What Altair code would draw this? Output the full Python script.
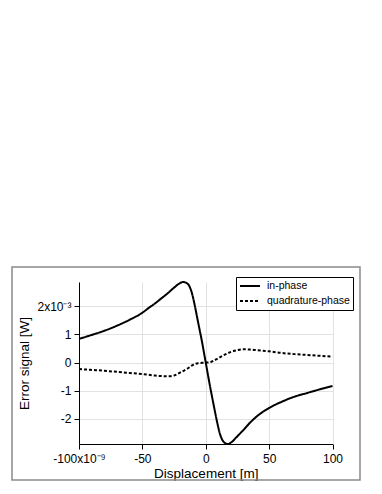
import altair as alt
import pandas as pd

# ---- data (displacement in nm, signal in 1e-3 W) ----
x_in = [-100, -90, -80, -70, -60, -50, -45, -40, -35, -30, -25, -21, -18, -15, -13, -11,
        -9, -7, -5, -3, -1, 0, 1, 3, 5, 7, 9, 11, 13, 15, 17.5, 21, 24, 27, 30, 35, 40,
        45, 50, 60, 70, 80, 90, 100]
y_in = [0.84, 0.98, 1.13, 1.31, 1.52, 1.77, 1.94, 2.10, 2.28, 2.46, 2.66, 2.80, 2.86,
        2.82, 2.72, 2.48, 2.10, 1.65, 1.20, 0.75, 0.25, 0.0, -0.25, -0.75, -1.22, -1.68,
        -2.12, -2.50, -2.74, -2.85, -2.89, -2.80, -2.66, -2.52, -2.38, -2.13, -1.92,
        -1.75, -1.61, -1.39, -1.21, -1.08, -0.95, -0.83]

x_quad = [-100, -90, -80, -70, -60, -50, -40, -35, -30, -25, -20, -15, -10, -6, -3, 0,
          3, 6, 10, 15, 20, 25, 30, 35, 40, 50, 60, 70, 80, 90, 100]
y_quad = [-0.23, -0.26, -0.29, -0.33, -0.37, -0.41, -0.46, -0.48, -0.49, -0.46, -0.35,
          -0.23, -0.08, -0.02, -0.01, 0.0, 0.01, 0.06, 0.16, 0.28, 0.38, 0.44, 0.47,
          0.46, 0.44, 0.40, 0.34, 0.30, 0.27, 0.24, 0.21]

series_names = ["in-phase", "quadrature-phase"]
x_ticks = [-100, -50, 0, 50, 100]
y_ticks = [-2, -1, 0, 1, 2]

df = pd.concat([
    pd.DataFrame({"disp": x_in, "sig": y_in, "series": series_names[0]}),
    pd.DataFrame({"disp": x_quad, "sig": y_quad, "series": series_names[1]}),
], ignore_index=True)

FONT = "Liberation Sans"

lines = alt.Chart(df).mark_line(
    color="black", strokeWidth=2, interpolate="monotone"
).encode(
    x=alt.X(
        "disp:Q",
        scale=alt.Scale(domain=[-100, 100], nice=False),
        axis=alt.Axis(
            values=x_ticks,
            title="Displacement [m]",
            labelExpr="datum.value == -100 ? '-100x10⁻⁹' : '' + datum.value",
            labelFlush=False,
            labelOverlap=False,
            labelPadding=4,
            titleY=22,
            titleBaseline="top",
        ),
    ),
    y=alt.Y(
        "sig:Q",
        scale=alt.Scale(zero=False, nice=False),
        axis=alt.Axis(
            values=y_ticks,
            title="Error signal [W]",
            labelExpr="datum.value == 2 ? '2x10⁻³' : '' + datum.value",
            labelPadding=3,
            titleX=-48,
        ),
    ),
    strokeDash=alt.StrokeDash(
        "series:N",
        scale=alt.Scale(domain=series_names, range=[[1, 0], [3, 2]]),
        legend=alt.Legend(
            title=None,
            orient="none",
            legendX=157,
            legendY=-5,
            direction="vertical",
            symbolType="M-1,0H3",
            symbolSize=100,
            symbolStrokeWidth=2,
            symbolStrokeColor="black",
            labelFont=FONT,
            labelFontSize=10.5,
            labelColor="black",
            labelOffset=16,
            strokeColor="black",
            fillColor="white",
            padding=3,
            rowPadding=3,
            cornerRadius=0,
        ),
    ),
)

frame = alt.Chart(pd.DataFrame({"k": [0]})).mark_rect(
    fillOpacity=0, stroke="#8a8a8a", strokeWidth=1.5
).encode(
    x=alt.value(-67), x2=alt.value(281), y=alt.value(-15), y2=alt.value(198)
)

chart = alt.layer(frame, lines).properties(
    width=253.5,
    height=162,
    autosize=alt.AutoSizeParams(type="none"),
    padding={"left": 71, "top": 274, "right": 40, "bottom": 40},
).configure_view(
    strokeWidth=0
).configure_axis(
    domainColor="black",
    domainWidth=1,
    tickColor="black",
    tickSize=5,
    tickWidth=1,
    gridColor="#e2e2e2",
    gridWidth=1,
    grid=True,
    labelFont=FONT,
    labelFontSize=12,
    labelColor="black",
    titleFont=FONT,
    titleFontSize=13.5,
    titleFontWeight="normal",
    titleColor="black",
)

chart.save("out.html", embed_options={"renderer": "svg", "actions": False})
